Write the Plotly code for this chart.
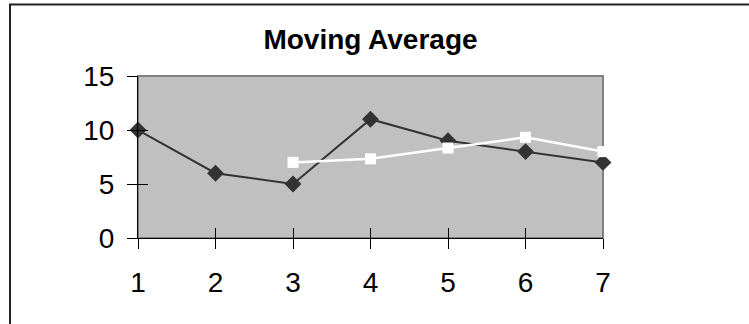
import plotly.graph_objects as go

categories = [1, 2, 3, 4, 5, 6, 7]
tick_labels = ["1", "2", "3", "4", "5", "6", "7"]
series_values = [10, 6, 5, 11, 9, 8, 7]
ma_categories = [3, 4, 5, 6, 7]
ma_values = [7.0, 7.33, 8.33, 9.33, 8.0]
y_ticks = [0, 5, 10, 15]

W, H = 749, 324
L, R, T, B = 138, 146, 76, 86
pw, ph = W - L - R, H - T - B

fig = go.Figure()
fig.add_trace(go.Scatter(
    x=categories, y=series_values, mode="lines+markers",
    line=dict(color="#333333", width=2),
    marker=dict(symbol="diamond", size=13, color="#333333"),
    cliponaxis=False, showlegend=False))
fig.add_trace(go.Scatter(
    x=ma_categories, y=ma_values, mode="lines+markers",
    line=dict(color="#ffffff", width=2.5),
    marker=dict(symbol="square", size=11, color="#ffffff"),
    cliponaxis=False, showlegend=False))

font = "Liberation Sans, Arial, sans-serif"
axis_common = dict(showgrid=False, zeroline=False, ticks="outside", ticklen=10,
                   tickcolor="black", tickwidth=1, showline=True,
                   linecolor="black", linewidth=1)

fig.update_layout(
    width=W, height=H,
    margin=dict(l=L, r=R, t=T, b=B),
    paper_bgcolor="white", plot_bgcolor="#c0c0c0",
    title=dict(text="<b>Moving Average</b>", x=(L + pw / 2) / W, xanchor="center",
               y=1 - 39.5 / H, yanchor="middle", yref="container",
               font=dict(family=font, size=28, color="black")),
    xaxis=dict(range=[1, 7], tickvals=categories, ticktext=tick_labels,
               tickfont=dict(family=font, size=28, color="black"),
               ticklabelstandoff=9, **axis_common),
    yaxis=dict(range=[0, 15], tickvals=y_ticks,
               tickfont=dict(family=font, size=28, color="black"),
               ticklabelstandoff=7, **axis_common),
    xaxis2=dict(overlaying="x", matches="x", range=[1, 7], tickvals=categories,
                showticklabels=False, ticks="inside", ticklen=10, tickcolor="black",
                showgrid=False, zeroline=False, showline=False, side="bottom"),
    yaxis2=dict(overlaying="y", matches="y", range=[0, 15], tickvals=y_ticks,
                showticklabels=False, ticks="inside", ticklen=10, tickcolor="black",
                showgrid=False, zeroline=False, showline=False, side="left"),
)
# dummy trace to activate overlay axes
fig.add_trace(go.Scatter(x=[None], y=[None], xaxis="x2", yaxis="y2",
                         showlegend=False, hoverinfo="skip"))

# plot-area border (grey top/right)
fig.add_shape(type="rect", xref="x domain", yref="y domain", x0=0, x1=1, y0=0, y1=1,
              line=dict(color="#808080", width=2), layer="below")
# chart outer border (extends beyond the window on right/bottom)
fig.add_shape(type="rect", xref="paper", yref="paper",
              x0=(10 - L) / pw, x1=(W + 40 - L) / pw,
              y0=(H - B - (H + 40)) / ph, y1=(H - B - 4.5) / ph,
              line=dict(color="#222222", width=2), layer="above")

fig.write_html("out.html", config={"displayModeBar": False},
               post_script="document.body.style.margin='0';")
